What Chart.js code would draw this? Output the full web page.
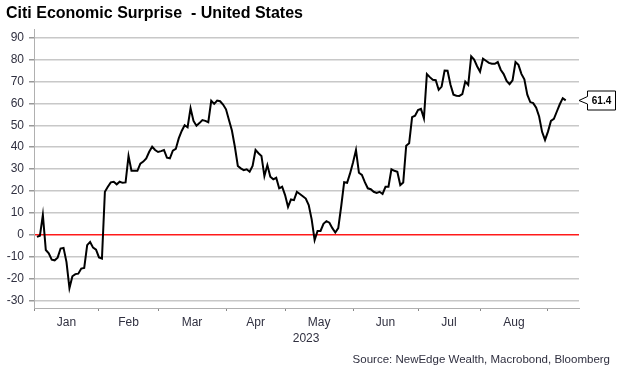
<!DOCTYPE html>
<html>
<head>
<meta charset="utf-8">
<script src="https://cdn.jsdelivr.net/npm/chart.js@4.4.0/dist/chart.umd.min.js"></script>
<style>
  html, body { margin: 0; padding: 0; background: #fff; }
  #wrap { width: 623px; height: 376px; position: relative; }
</style>
</head>
<body>
<div id="wrap"><canvas id="surpriseChart"></canvas></div>
<script>
// Citi Economic Surprise Index - US, 2023, one value per trading day (day 1 = first trading day)
var firstDay = 1;
var surprise = [
  -1, -0.5, 9, -7, -8.5, -11.4, -11.7, -10.5, -6.3, -6,
  -12.5, -24.4, -19, -18, -17.8, -15.5, -15.2, -4.8, -3.3, -5.9,
  -6.8, -10.4, -10.9, 19.6, 21.9, 23.9, 24.2, 23, 24.2, 23.7,
  23.9, 36, 29.2, 29.2, 29.2, 32.5, 33.4, 34.9, 37.9, 40.2,
  38.7, 37.8, 38.2, 38.7, 35.2, 34.9, 38.4, 39.2, 44, 47.4,
  50, 49.1, 57.8, 52, 49.8, 51, 52.4, 52, 51.4, 61.2,
  59.8, 61.3, 61, 59.5, 57.3, 52.4, 47.6, 40.2, 31.4, 30.3,
  29.5, 29.9, 28.8, 31.4, 38.7, 37.2, 36, 26.8, 31.8, 26.5,
  25.3, 26, 21.2, 21.9, 18.1, 12.7, 16.1, 15.8, 19.6, 18.6,
  17.6, 16.5, 13.5, 7, -2.5, 1.7, 1.7, 5, 6.2, 5.5,
  3, 1, 3, 13, 24, 23.7, 28, 33, 38.7, 28.3,
  27.3, 24, 21.2, 20.8, 19.6, 19.1, 19.6, 18.6, 21.9, 21.9,
  29.9, 29.2, 28.8, 22.7, 23.9, 40.7, 41.8, 53.7, 54.4, 57,
  57.5, 53.2, 73.4, 72, 70.8, 70.6, 66.2, 67.7, 75, 74.9,
  68.5, 64, 63.5, 63.4, 64.2, 70, 68.5, 81.5, 80, 77,
  74.5, 80.4, 79.5, 78.5, 78.1, 78.1, 78.9, 75.4, 73.4, 70.3,
  68.8, 70.5, 78.9, 77.6, 73.5, 71, 64, 60.6, 60.1, 58,
  54, 47, 43.3, 47.1, 52, 52.9, 56.3, 59.6, 62.4, 61.4
];

// trading-day index where each month starts (Jan .. Sep)
var monthStarts = [0, 22, 42, 65, 85, 108, 130, 151, 174];
var monthNames = ['Jan', 'Feb', 'Mar', 'Apr', 'May', 'Jun', 'Jul', 'Aug'];
var yearLabel = '2023';
var yearMonth = 'May';
var yTicks = [-30, -20, -10, 0, 10, 20, 30, 40, 50, 60, 70, 80, 90];

var titleText = 'Citi Economic Surprise  - United States';
var sourceText = 'Source: NewEdge Wealth, Macrobond, Bloomberg';

var points = surprise.map(function(v, i){ return {x: firstDay + i, y: v}; });

var monthMids = [];
for (var m = 0; m < monthNames.length; m++) {
  monthMids.push((monthStarts[m] + monthStarts[m + 1]) / 2);
}

var labelColor = '#303040';
var fontFamily = '"Liberation Sans", Arial, sans-serif';

var extras = {
  id: 'extras',
  afterDraw: function(chart){
    var ctx = chart.ctx;
    var xs = chart.scales.x, ys = chart.scales.y;
    ctx.save();
    // title
    ctx.fillStyle = '#000';
    ctx.font = 'bold 16px ' + fontFamily;
    ctx.textAlign = 'left';
    ctx.textBaseline = 'middle';
    ctx.fillText(titleText, 6, 14);
    // year under May, a bit left of the month label
    var mayX = xs.getPixelForValue(monthMids[monthNames.indexOf(yearMonth)]);
    ctx.fillStyle = labelColor;
    ctx.font = '12px ' + fontFamily;
    ctx.textAlign = 'center';
    ctx.fillText(yearLabel, mayX - 13, 339);
    // source
    ctx.font = '11.5px ' + fontFamily;
    ctx.textAlign = 'right';
    ctx.fillText(sourceText, 610, 360);
    // last value callout
    var last = points[points.length - 1];
    var ty = Math.round(ys.getPixelForValue(last.y)) + 0.5;
    var tx = chart.chartArea.right;
    var bx = tx + 8.5, bw = 28;
    ctx.strokeStyle = '#000';
    ctx.lineWidth = 1;
    ctx.fillStyle = '#fff';
    ctx.beginPath();
    ctx.moveTo(bx, ty - 9.5);
    ctx.lineTo(bx + bw, ty - 9.5);
    ctx.lineTo(bx + bw, ty + 9.5);
    ctx.lineTo(bx, ty + 9.5);
    ctx.lineTo(bx, ty + 3.5);
    ctx.lineTo(tx, ty);
    ctx.lineTo(bx, ty - 4);
    ctx.closePath();
    ctx.fill();
    ctx.stroke();
    ctx.fillStyle = '#000';
    ctx.font = 'bold 10px ' + fontFamily;
    ctx.textAlign = 'center';
    ctx.fillText(last.y.toFixed(1), bx + bw / 2, ty + 0.5);
    ctx.restore();
  }
};

new Chart(document.getElementById('surpriseChart'), {
  type: 'line',
  data: {
    datasets: [{
      label: 'Citi Economic Surprise - United States',
      data: points,
      borderColor: '#000',
      borderWidth: 2,
      pointRadius: 0,
      tension: 0,
      fill: false
    }]
  },
  options: {
    responsive: true,
    maintainAspectRatio: false,
    animation: false,
    layout: { padding: { top: 29, right: 44, left: 0, bottom: 0 } },
    plugins: {
      legend: { display: false },
      tooltip: { enabled: false },
      title: { display: false }
    },
    scales: {
      x: {
        type: 'linear',
        min: 0,
        max: 184.5,
        afterBuildTicks: function(scale){
          var all = monthStarts.concat(monthMids).sort(function(a, b){ return a - b; });
          scale.ticks = all.map(function(v){ return {value: v}; });
        },
        afterFit: function(scale){ scale.height = 68; },
        ticks: {
          autoSkip: false,
          maxRotation: 0,
          padding: 4,
          color: labelColor,
          font: { family: fontFamily, size: 12 },
          callback: function(value){
            var k = monthMids.indexOf(value);
            return k < 0 ? '' : monthNames[k];
          }
        },
        grid: {
          display: true,
          drawOnChartArea: false,
          drawTicks: true,
          tickLength: 3,
          tickColor: function(c){
            return c.tick && monthStarts.indexOf(c.tick.value) >= 0 ? '#888' : 'rgba(0,0,0,0)';
          }
        },
        border: { display: true, color: '#b0b0b0', width: 1 }
      },
      y: {
        min: -33.5,
        max: 94,
        afterBuildTicks: function(scale){
          scale.ticks = yTicks.map(function(v){ return {value: v}; });
        },
        afterFit: function(scale){ scale.width = 34; },
        ticks: {
          padding: 5,
          color: labelColor,
          font: { family: fontFamily, size: 12 }
        },
        grid: {
          drawTicks: true,
          tickLength: 5,
          tickColor: '#999',
          lineWidth: 1.5,
          color: function(c){
            return c.tick && c.tick.value === 0 ? '#ff1a1a' : '#c8c8c8';
          }
        },
        border: { display: true, color: '#b0b0b0', width: 1 }
      }
    }
  },
  plugins: [extras]
});
</script>
</body>
</html>
